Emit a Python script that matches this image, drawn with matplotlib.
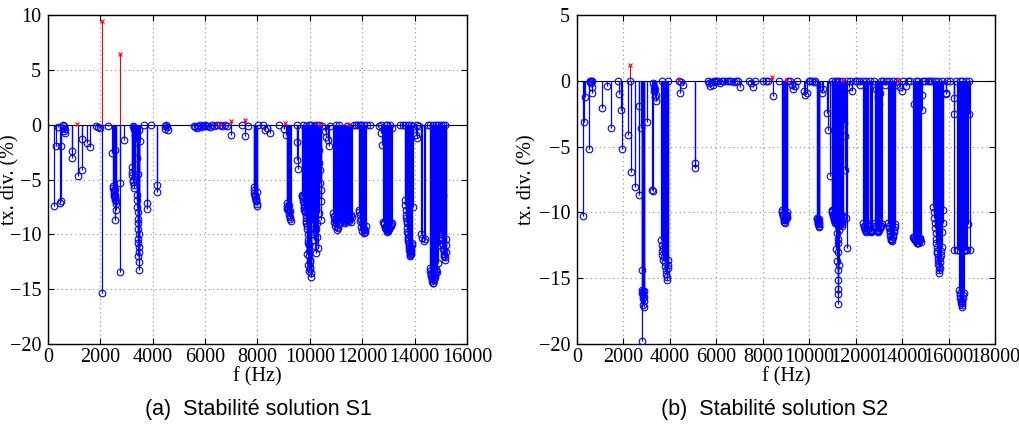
import numpy as np
import matplotlib
matplotlib.use("Agg")
import matplotlib.pyplot as plt

# ---- (a) solution S1 : (f [Hz], taux de divergence [%]) ----
a_0_5k = [
    (230, -7.4), (300, -1.9), (390, -0.2), (470, -7.1), (500, -7.0), (510, -1.9),
    (560, -0.05), (590, -0.3), (610, -0.6), (620, -0.1), (650, -0.8), (660, -0.4),
    (930, -2.4), (930, -3.0), (1160, -4.7), (1280, -4.1), (1290, -1.3), (1500, -1.7),
    (1600, -2.0), (1830, -0.1), (1900, -0.2), (1970, -0.3), (2050, -15.35),
    (2280, -0.1), (2430, -2.6), (2490, -5.6), (2500, -5.8), (2510, -6.0), (2520, -6.1),
    (2530, -6.3), (2540, -6.4), (2550, -6.6), (2560, -6.7), (2570, -6.9), (2580, -7.0),
    (2590, -7.2), (2600, -7.8), (2540, -8.7), (2570, -2.3), (2560, -5.9), (2530, -6.5),
    (2750, -13.4), (2750, -5.35), (2915, -1.4),
    (3190, -3.9), (3200, -4.3), (3220, -4.6), (3240, -5.0), (3260, -5.2), (3280, -5.5),
    (3300, -5.8), (3320, -4.8), (3250, -0.1), (3280, -0.2), (3300, -0.4), (3320, -0.6),
    (3340, -0.9), (3360, -1.6), (3380, -6.4), (3400, -6.9), (3410, -7.5), (3420, -8.0),
    (3430, -8.6), (3440, -9.0), (3450, -9.5), (3460, -10.0), (3440, -10.4), (3450, -10.8),
    (3470, -11.2), (3460, -11.6), (3450, -12.0), (3470, -12.5), (3480, -13.25),
    (3490, -0.5), (3500, -1.5), (3400, -3.0), (3420, -4.5),
    (3650, -0.05), (3765, -7.1), (3765, -7.7), (3930, -0.05), (4175, -5.5), (4175, -6.1),
    (4450, -0.1), (4480, -0.4), (4500, 0.0), (4550, -0.2), (4600, -0.5),
]
a_5k_9k = [
    (5560, -0.1), (5620, -0.2), (5680, -0.3), (5740, -0.1), (5800, -0.05), (5860, -0.2),
    (5920, -0.1), (5980, -0.05), (6050, -0.15), (6120, -0.1), (6200, -0.25), (6280, -0.05),
    (6350, -0.1), (6450, 0.0), (6560, -0.05), (6660, -0.1), (6760, -0.05), (6830, -0.1),
    (6970, -0.9), (7420, -0.05), (7520, -1.0), (7620, -0.1),
    (7850, -5.7), (7870, -6.0), (7880, -6.2), (7900, -6.4), (7910, -6.6), (7930, -6.8),
    (7950, -7.0), (7970, -7.2), (7990, -7.4), (8000, -6.1), (7960, -6.9), (7920, -6.5),
    (8030, 0.0), (8220, -0.05), (8300, -0.5), (8380, -0.3), (8470, -0.8), (8840, 0.0),
    (9030, -0.4),
]
a_9k_11k = [
    (9100, -0.9), (9120, -7.1), (9140, -7.4), (9160, -7.6), (9180, -7.8), (9200, -8.0),
    (9220, -8.2), (9240, -8.4), (9260, -8.6), (9280, -8.8), (9200, -7.3), (9240, -7.9),
    (9130, -7.7), (9500, 0.0), (9510, -1.55), (9520, -3.2), (9530, -4.0),
    (9700, -6.4), (9730, -6.8), (9760, -7.2), (9790, -7.6), (9820, -8.0), (9740, -7.0),
    (9780, -7.8), (9720, -6.6), (9800, -7.4), (9710, -6.5), (9770, -7.5), (9810, -7.9),
    (9840, -8.2), (9860, -8.8), (9880, -9.2), (9940, -10.8), (9990, -12.3), (10020, -13.2),
    (9850, -8.5), (9870, -9.0), (9890, -9.5), (9910, -10.0), (9930, -10.5), (9950, -11.0),
    (9960, -11.5), (9980, -12.0), (10000, -12.5), (10010, -13.0), (10030, -13.5),
    (10040, -13.85), (9900, -11.8), (9920, -12.8), (9970, -13.3),
    (10080, -9.0), (10120, -10.0), (10150, -8.0), (10200, -11.1), (10250, -11.7),
    (10120, -4.0), (10180, -2.0), (10100, -6.0), (10220, -9.5),
    (10060, -9.5), (10090, -8.5), (10110, -7.2), (10140, -9.8), (10170, -10.5),
    (10190, -6.5), (10230, -7.5), (10260, -10.2), (10290, -5.0), (10330, -3.5),
    (10300, -6.3), (10350, -2.3), (10360, -8.1), (10380, -4.1), (10400, -5.3),
    (10420, -8.7), (10270, -9.0), (10320, -11.25), (10410, -7.0), (10440, -6.0),
    (9750, -0.05), (9850, -0.1), (9950, 0.0), (10050, -0.05), (10150, -0.1),
    (10250, -0.05), (10350, 0.0), (10450, -0.1),
    (10570, -0.6), (10620, -1.1), (10700, -1.4), (10720, -1.9), (10760, -0.1),
]
a_11k_16k = [
    (10900, -8.1), (10930, -8.4), (10960, -8.7), (10990, -9.0), (11020, -9.3), (11050, -9.6),
    (11080, -8.6), (11120, -9.1), (11150, -8.9), (11180, -8.3), (11000, -0.05), (11100, 0.0),
    (10910, -8.3), (10940, -8.9), (10970, -9.2), (11000, -8.5), (11030, -8.7), (11060, -9.4),
    (11100, -8.9), (11130, -8.6),
    (11230, -8.1), (11270, -8.4), (11310, -8.7), (11350, -9.0), (11390, -8.6), (11430, -8.3),
    (11470, -8.5), (11510, -8.8), (11560, -8.2), (11600, -8.4), (11460, -2.55),
    (11250, -8.5), (11290, -8.9), (11330, -8.4), (11370, -8.8), (11410, -8.5),
    (11450, -8.7), (11490, -8.3), (11530, -8.6), (11580, -8.9),
    (11420, -0.1), (11450, -0.5),
    (11700, 0.0), (11760, 0.0), (11820, -0.05), (11900, 0.0), (11960, -0.05), (12050, 0.0),
    (12200, 0.0), (12300, -0.05),
    (11860, -7.8), (11900, -8.2), (11940, -8.6), (11980, -9.0), (12020, -9.4), (12060, -9.9),
    (12100, -9.6), (12140, -9.2), (12000, -9.7), (11880, -8.0), (11920, -8.8),
    (11960, -9.3), (12040, -9.1), (12080, -9.5), (12120, -9.8),
    (12650, -0.1), (12700, 0.0), (12720, -0.8), (12760, -1.85), (12900, 0.0), (12950, -0.05),
    (13050, 0.0), (13120, -0.3),
    (12800, -8.85), (12840, -9.1), (12880, -9.3), (12920, -9.5), (12960, -9.75),
    (13000, -9.6), (13040, -9.4), (13080, -9.2), (13120, -9.0), (12980, -9.7),
    (12820, -9.0), (12860, -9.4), (12900, -9.2), (12940, -9.6), (13020, -9.5),
    (13060, -9.3), (13100, -9.1),
    (13450, -0.05), (13550, 0.0), (13650, 0.0), (13750, -0.05), (13850, 0.0), (13950, -0.1),
    (14100, -0.05), (14150, -0.1),
    (13640, -6.9), (13660, -7.8), (13680, -8.5), (13700, -9.0), (13720, -9.8),
    (13740, -10.2), (13760, -10.6), (13780, -11.0), (13800, -11.4), (13820, -11.7),
    (13840, -12.0), (13860, -11.6), (13880, -11.2), (13900, -10.8), (13920, -7.5),
    (13650, -7.3), (13670, -8.2), (13690, -8.8), (13710, -9.4), (13730, -10.0),
    (13750, -10.4), (13770, -10.8), (13790, -11.2), (13810, -11.5), (13830, -11.9),
    (13850, -11.8), (13870, -11.4), (13890, -11.0),
    (14070, -0.9), (14100, -1.2), (14240, -10.0), (14300, -10.3), (14350, -10.6),
    (14400, -10.4),
    (14520, -0.05), (14600, 0.0), (14700, -0.05), (14800, 0.0), (14900, -0.05),
    (15000, 0.0), (15100, -0.05), (15150, 0.0),
    (14580, -13.1), (14610, -13.5), (14640, -13.8), (14670, -14.1), (14700, -14.45),
    (14730, -14.2), (14760, -13.9), (14790, -13.5), (14830, -13.2),
    (14590, -13.3), (14620, -13.7), (14650, -14.0), (14680, -14.3), (14710, -14.4),
    (14740, -14.0), (14770, -13.7), (14810, -13.3), (14850, -13.4), (14880, -12.6),
    (14920, -11.0),
    (14960, -9.3), (15000, -9.8), (15030, -10.3), (15060, -10.8), (15090, -11.3),
    (15120, -11.8), (15150, -12.3), (15180, -11.6), (15210, -10.4), (15100, -6.4),
    (14900, -6.5), (14870, -9.6), (14940, -9.0), (14980, -9.6), (15010, -10.0),
    (15040, -10.5), (15070, -11.0), (15110, -11.5), (15140, -12.0), (15170, -12.1),
    (15200, -11.0),
]
a_unstable = [(1100, 0.05), (2050, 9.45), (2750, 6.4), (6560, 0.05), (6970, 0.36),
              (7520, 0.4), (9045, 0.13), (10400, 0.05), (11460, 0.05)]

# ---- (b) solution S2 ----
b_0_5k = [
    (272, -10.3), (300, -3.15), (330, -1.2), (515, -5.2), (550, 0.0), (580, -0.1),
    (600, -0.05), (610, -0.2), (630, -0.9), (640, -0.45), (660, 0.0),
    (1090, -2.1), (1305, -0.4), (1450, -3.6), (1780, 0.0), (1790, -1.0), (1900, -2.2),
    (1950, -5.2), (2180, -4.1), (2280, 0.0), (2325, -6.95), (2497, -8.05), (2670, -8.7),
    (2685, -1.9), (2740, -3.55),
    (2790, -14.4), (2810, -15.9), (2820, -16.1), (2830, -16.3), (2840, -16.5),
    (2850, -16.0), (2860, -16.2), (2870, -16.7), (2880, -17.2), (2890, -16.4),
    (2800, -19.8), (2900, -15.95), (2830, -17.0),
    (3000, -3.15), (3240, -8.3), (3285, -8.35), (3270, -0.2), (3300, -0.5), (3320, -0.8),
    (3350, -1.2), (3380, -0.6), (3400, -1.5), (3420, -1.05),
    (3620, -12.1), (3640, -12.5), (3660, -12.9), (3680, -13.2), (3700, -13.6),
    (3720, -12.7), (3650, 0.0),
    (3760, -13.4), (3780, -13.8), (3800, -14.1), (3820, -14.4), (3840, -14.7),
    (3860, -15.1), (3880, -14.9), (3900, -14.2), (3920, -13.6), (3940, -14.0), (3900, 0.0),
    (4410, 0.0), (4440, -0.9), (4460, -0.1), (4580, -0.3), (5060, -6.27), (5070, -6.65),
]
b_5k_11k = [
    (5620, 0.0), (5680, -0.2), (5740, -0.4), (5780, -0.1), (5850, -0.3), (5900, 0.0),
    (5950, -0.1), (6000, -0.05), (6080, 0.0), (6150, -0.15), (6250, 0.0), (6350, -0.05),
    (6450, 0.0), (6550, -0.05), (6650, 0.0), (6750, -0.1), (6850, 0.0), (6950, -0.05),
    (7020, -0.5), (7400, 0.0), (7500, -0.2), (7600, -0.5), (7670, -0.05), (8020, 0.0),
    (8130, 0.0), (8240, 0.0), (8430, -1.15), (8710, 0.0),
    (8820, -9.8), (8850, -10.1), (8880, -10.3), (8910, -10.5), (8940, -10.8),
    (8970, -10.6), (9000, -10.2), (9030, -10.0), (9060, -10.4), (9100, -0.05),
    (8830, -10.0), (8860, -10.2), (8900, -10.6), (8930, -10.7), (8960, -10.5),
    (8990, -10.3), (9020, -10.1), (9050, -10.3),
    (9180, 0.0), (9250, -0.3), (9320, -0.6), (9400, -0.4), (9460, 0.0),
    (9760, -0.75), (9820, -1.1), (9900, -0.9),
    (9970, 0.0), (10050, -0.05), (10120, 0.0), (10200, -0.1), (10260, 0.0),
    (10340, -10.4), (10360, -10.6), (10380, -10.8), (10400, -11.1), (10420, -10.9),
    (10440, -10.5), (10350, -10.5), (10370, -10.7), (10390, -10.9), (10410, -11.0),
    (10430, -10.7),
    (10460, -0.45), (10530, -0.9), (10600, -0.6),
    (10750, -2.47), (10820, -3.74), (10890, -7.2),
]
b_11k_17k = [
    (10970, -9.8), (11000, -10.0), (11030, -10.2), (11060, -10.5), (11090, -10.8),
    (11120, -10.4), (11150, -10.1), (11180, -10.6), (11210, -11.6), (11220, -12.3),
    (11230, -13.0), (11215, -13.7), (11225, -14.4), (11235, -15.1), (11220, -15.8),
    (11230, -16.2), (11225, -16.95), (11250, -12.0), (11280, -11.3), (11310, -10.9),
    (11340, -10.6), (11370, -10.2), (11400, -10.7), (11430, -11.0), (11470, -10.3),
    (10980, -9.9), (11010, -10.1), (11040, -10.3), (11070, -10.6), (11100, -10.7),
    (11130, -10.3), (11170, -10.4), (11200, -10.8), (11260, -11.0), (11290, -10.8),
    (11320, -10.5), (11350, -10.7), (11380, -10.4), (11410, -10.9), (11440, -10.6),
    (11000, 0.0), (11100, -0.05), (11200, 0.0), (11300, -0.05), (11400, 0.0),
    (11270, -14.0), (11160, -12.8),
    (11480, -3.2), (11520, -4.2), (11560, -6.8), (11600, -10.4), (11640, -12.7),
    (11630, -0.05), (11700, -0.5), (11760, 0.0), (11850, -0.8), (11950, 0.0),
    (12050, -0.05), (12150, 0.0), (12190, -0.3),
    (12330, -10.8), (12370, -11.1), (12410, -11.3), (12450, -11.5), (12490, -11.2),
    (12530, -10.9), (12350, -11.0), (12390, -11.2), (12430, -11.4), (12470, -11.3),
    (12510, -11.0), (12300, 0.0), (12450, -0.05),
    (12620, -11.3), (12650, -11.5), (12690, -11.4), (12630, -11.4), (12670, -11.45),
    (12620, 0.0),
    (12830, -10.8), (12880, -11.1), (12930, -11.4), (12980, -11.5), (13030, -11.2),
    (13080, -11.0), (13120, -10.9), (12850, -11.0), (12900, -11.3), (12960, -11.45),
    (13000, -11.3), (13060, -11.1), (13100, -11.0),
    (12880, -0.6), (12950, -1.2), (13000, -1.8), (13050, -0.9), (12800, 0.0), (13100, 0.0),
    (13180, -0.05), (13250, -0.3), (13300, 0.0),
    (13400, -10.8), (13440, -11.2), (13480, -11.6), (13520, -12.0), (13560, -12.2),
    (13600, -11.9), (13640, -11.5), (13680, -11.1), (13700, -10.9), (13420, -11.0),
    (13460, -11.4), (13500, -11.8), (13540, -12.1), (13580, -12.0), (13620, -11.7),
    (13660, -11.3), (13450, 0.0), (13600, 0.0),
    (13720, -0.3), (13800, 0.0), (13900, -0.5), (13980, -0.8), (14050, 0.0),
    (14150, -0.4), (14250, 0.0), (14350, -0.05),
    (14490, -11.85), (14530, -12.0), (14570, -12.1), (14610, -12.2), (14650, -12.35),
    (14690, -12.3), (14730, -12.1), (14770, -11.95), (14810, -12.25), (14510, -11.9),
    (14550, -12.05), (14590, -12.15), (14630, -12.3), (14670, -12.3), (14710, -12.2),
    (14750, -12.0), (14790, -12.1), (14500, -1.8), (14600, 0.0), (14700, 0.0),
    (14845, -1.1), (14850, -2.2), (14900, 0.0), (15000, -0.05), (15100, 0.0),
    (15200, -0.05), (15300, 0.0),
    (15350, -9.6), (15390, -10.4), (15420, -11.2), (15460, -12.0), (15490, -12.6),
    (15520, -13.1), (15550, -13.6), (15580, -14.1), (15610, -14.6), (15640, -13.8),
    (15670, -13.2), (15700, -12.6), (15740, -10.8), (15775, -9.8), (15370, -10.0),
    (15410, -10.8), (15440, -11.6), (15470, -12.3), (15500, -12.9), (15530, -13.4),
    (15560, -13.9), (15590, -14.4), (15620, -14.2), (15650, -13.5), (15690, -12.9),
    (15720, -11.5), (15400, 0.0), (15550, 0.0), (15700, 0.0),
    (15870, -1.0), (15880, -0.9), (15950, 0.0), (16050, 0.0),
    (16230, -1.3), (16230, -2.5), (16230, -12.85), (16350, -12.85), (16420, -12.85),
    (16300, 0.0),
    (16465, -15.9), (16500, -16.3), (16530, -16.7), (16560, -17.2), (16590, -16.9),
    (16620, -16.5), (16650, -16.1), (16680, -9.0), (16710, -10.6), (16560, -9.8),
    (16480, -16.1), (16510, -16.5), (16540, -16.9), (16570, -17.0), (16600, -16.7),
    (16630, -16.3), (16660, -12.85), (16690, -12.85), (16720, -12.85), (16760, -12.85),
    (16500, 0.0), (16600, 0.0),
    (16800, -12.85), (16840, -10.9), (16880, -2.5), (16920, -12.85), (16900, 0.0),
    (16750, 0.0),
]
b_unstable = [(2280, 1.2), (4410, 0.05), (8380, 0.3), (9030, 0.05), (11470, 0.05),
              (13840, 0.05)]

a_xticks = np.arange(0, 16001, 2000)
b_xticks = np.arange(0, 18001, 2000)
a_yticks = [-20, -15, -10, -5, 0, 5, 10]
b_yticks = [-20, -15, -10, -5, 0, 5]
captions = ["(a)  Stabilité solution S1", "(b)  Stabilité solution S2"]

serif = ["Liberation Serif", "DejaVu Serif"]
fs = 14.5


def stem_panel(ax, stable, unstable, xmax, ylim, xticks, yticks):
    f, v = np.array(stable, dtype=float).T
    ax.vlines(f, 0, v, color="b", lw=0.9, zorder=3)
    ax.plot(f, v, "o", mfc="none", mec="b", ms=4.8, mew=0.8, zorder=4)
    fr, vr = np.array(unstable, dtype=float).T
    ax.vlines(fr, 0, vr, color="r", lw=0.8, zorder=3)
    ax.plot(fr, vr, "x", color="r", ms=3.5, mew=0.8, zorder=4)
    ax.axhline(0, color="k", lw=0.8, zorder=2)

    ax.set_xlim(0, xmax)
    ax.set_ylim(*ylim)
    ax.set_xticks(xticks)
    ax.set_yticks(yticks)
    ax.set_xticklabels([str(t) for t in xticks], family=serif, fontsize=fs)
    ax.set_yticklabels([str(t).replace("-", "\u2212") for t in yticks], family=serif, fontsize=fs)
    ax.tick_params(direction="in", top=True, right=True, length=4, width=0.8)
    ax.tick_params(axis="x", pad=3)
    ax.tick_params(axis="y", pad=5)
    ax.grid(True, color="0.55", ls=(0, (1, 3)), lw=0.8)
    for s in ax.spines.values():
        s.set_linewidth(1.0)
    ax.set_xlabel("f (Hz)", family=serif, fontsize=fs, labelpad=0)
    ax.set_ylabel("tx. div. (%)", family=serif, fontsize=fs)


fig = plt.figure(figsize=(10.2, 4.32), dpi=100)
ax1 = fig.add_axes([48 / 1020, 88 / 432, 419 / 1020, 329 / 432])
ax2 = fig.add_axes([577 / 1020, 88 / 432, 418 / 1020, 329 / 432])

stem_panel(ax1, a_0_5k + a_5k_9k + a_9k_11k + a_11k_16k, a_unstable,
           16000, (-20, 10), a_xticks, a_yticks)
stem_panel(ax2, b_0_5k + b_5k_11k + b_11k_17k, b_unstable,
           18000, (-20, 5), b_xticks, b_yticks)
ax1.yaxis.set_label_coords(-0.068, 0.5)
ax2.yaxis.set_label_coords(-0.098, 0.5)

fig.text(258 / 1020, 1 - 409 / 432, captions[0], ha="center", va="center",
         family=["Liberation Sans", "DejaVu Sans"], fontsize=15.5)
fig.text(775 / 1020, 1 - 409 / 432, captions[1], ha="center", va="center",
         family=["Liberation Sans", "DejaVu Sans"], fontsize=15.5)

fig.savefig("out.png", dpi=100)
